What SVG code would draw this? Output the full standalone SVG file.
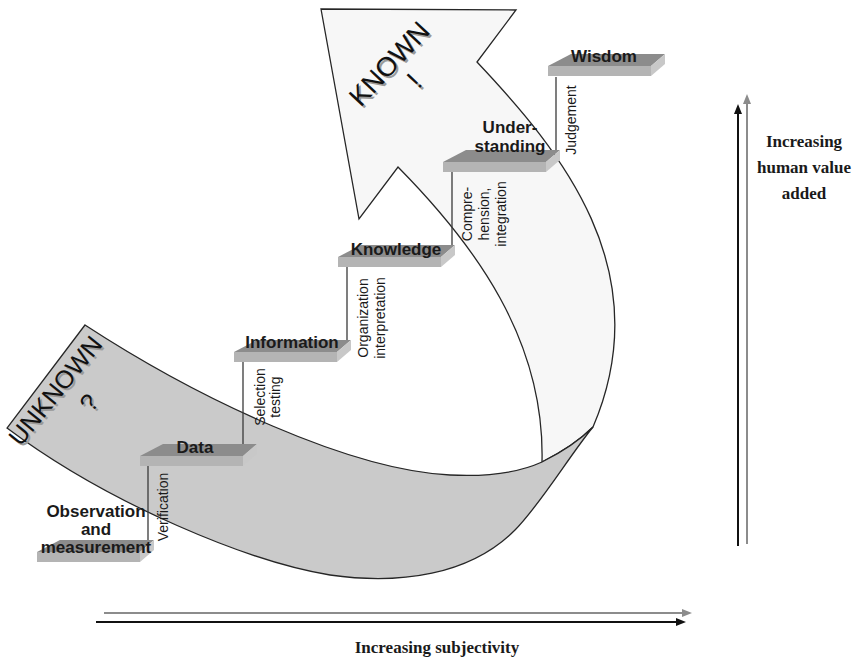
<svg xmlns="http://www.w3.org/2000/svg" width="855" height="658" viewBox="0 0 855 658">
<defs>
<style>
.edge{stroke:#262626;stroke-width:1.3;stroke-linejoin:miter}
.light{fill:#f7f7f7}
.dark{fill:#cacaca}
.lbl{font-family:"Liberation Sans",Arial,sans-serif;font-weight:bold;font-size:17px;fill:#1a1a1a;text-anchor:middle}
.vl{font-family:"Liberation Sans",Arial,sans-serif;font-size:14px;fill:#1a1a1a;text-anchor:middle}
.conn{stroke:#3a3a3a;stroke-width:1.3;fill:none}
.big{font-family:"Liberation Sans",Arial,sans-serif;font-size:25px;text-anchor:middle;fill:#111}
.bigk{font-size:27px}
.shadow{fill:#9a9a9a}
.axis{font-family:"Liberation Serif","Times New Roman",serif;font-weight:bold;font-size:17px;fill:#1a1a1a;text-anchor:middle}
.ax-k{stroke:#111;stroke-width:2;fill:none}
.ax-g{stroke:#8c8c8c;stroke-width:2;fill:none}
</style>
<g id="slab">
<polygon points="0,12 23,0 117,0 103,12" fill="#8c8c8c"/>
<polygon points="0,12 103,12 103,22 0,22" fill="#b4b4b4"/>
<polygon points="103,12 117,0 117,10 103,22" fill="#c8c8c8"/>
</g>
<marker id="mk" viewBox="0 0 10 8" markerWidth="10" markerHeight="8" refX="1" refY="4" orient="auto" markerUnits="userSpaceOnUse">
<path d="M0,0 L10,4 L0,8 Z" fill="#111"/>
</marker>
<marker id="mg" viewBox="0 0 10 8" markerWidth="10" markerHeight="8" refX="1" refY="4" orient="auto" markerUnits="userSpaceOnUse">
<path d="M0,0 L10,4 L0,8 Z" fill="#8c8c8c"/>
</marker>
</defs>
<rect width="855" height="658" fill="#ffffff"/>

<g id="band">
<path class="light edge" d="M321,9 L516,10 L477,62 C560,150 660,270 593,427 C578,442 560,453 542,462 C545,340 475,245 398,167 L359,219 Z"/>
<path class="dark edge" d="M85,325 C200,400 350,470 450,475 C490,477 520,472 542,462 C560,453 578,442 593,427 C570,455 540,505 515,530 C470,575 400,585 330,575 C250,562 110,505 7,428 Z"/>
<g id="known-text">
<text class="big bigk shadow" transform="translate(398,72) rotate(-47)">KNOWN</text>
<text class="big bigk" transform="translate(396,70) rotate(-47)">KNOWN</text>
<text class="big bigk shadow" transform="translate(423,89) rotate(-47)">!</text>
<text class="big bigk" transform="translate(421,87) rotate(-47)">!</text>
</g>
<g id="unknown-text">
<text class="big shadow" transform="translate(64,398) rotate(-51)">UNKNOWN</text>
<text class="big" transform="translate(62,396) rotate(-51)">UNKNOWN</text>
<text class="big shadow" transform="translate(98,410) rotate(-51)">?</text>
<text class="big" transform="translate(96,408) rotate(-51)">?</text>
</g>
</g>

<g id="connectors">
<line class="conn" x1="148" y1="466" x2="148" y2="551"/>
<line class="conn" x1="243" y1="362" x2="243" y2="445"/>
<line class="conn" x1="347" y1="267" x2="347" y2="341"/>
<line class="conn" x1="452" y1="172" x2="452" y2="246"/>
<line class="conn" x1="556" y1="77" x2="556" y2="151"/>
<text class="vl" transform="translate(168,507) rotate(-90)">Verification</text>
<text class="vl" transform="translate(265,397) rotate(-90)">Selection</text>
<text class="vl" transform="translate(280,397) rotate(-90)">testing</text>
<text class="vl" transform="translate(368,318) rotate(-90)">Organization</text>
<text class="vl" transform="translate(385,318) rotate(-90)">interpretation</text>
<text class="vl" transform="translate(472,214) rotate(-90)">Compre-</text>
<text class="vl" transform="translate(489,214) rotate(-90)">hension,</text>
<text class="vl" transform="translate(506,214) rotate(-90)">integration</text>
<text class="vl" transform="translate(576,120) rotate(-90)">Judgement</text>
</g>

<g id="observation">
<use href="#slab" x="37" y="540"/>
<text class="lbl" x="96" y="517">Observation</text>
<text class="lbl" x="96" y="535">and</text>
<text class="lbl" x="96" y="553">measurement</text>
</g>
<g id="data">
<use href="#slab" x="140" y="444"/>
<text class="lbl" x="195" y="453">Data</text>
</g>
<g id="information">
<use href="#slab" x="234" y="340"/>
<text class="lbl" x="292" y="348">Information</text>
</g>
<g id="knowledge">
<use href="#slab" x="338" y="245"/>
<text class="lbl" x="396" y="255">Knowledge</text>
</g>
<g id="understanding">
<use href="#slab" x="443" y="150"/>
<text class="lbl" x="510" y="133">Under-</text>
<text class="lbl" x="510" y="152">standing</text>
</g>
<g id="wisdom">
<use href="#slab" x="548" y="54"/>
<text class="lbl" x="604" y="62">Wisdom</text>
</g>

<g id="axes">
<line class="ax-g" x1="104" y1="613" x2="683" y2="613" marker-end="url(#mg)"/>
<line class="ax-k" x1="96" y1="622" x2="677" y2="622" marker-end="url(#mk)"/>
<text class="axis" x="437" y="653">Increasing subjectivity</text>
<line class="ax-g" x1="747" y1="544" x2="747" y2="103" marker-end="url(#mg)"/>
<line class="ax-k" x1="738" y1="546" x2="738" y2="113" marker-end="url(#mk)"/>
<text class="axis" x="804" y="147">Increasing</text>
<text class="axis" x="804" y="173">human value</text>
<text class="axis" x="804" y="199">added</text>
</g>
</svg>
